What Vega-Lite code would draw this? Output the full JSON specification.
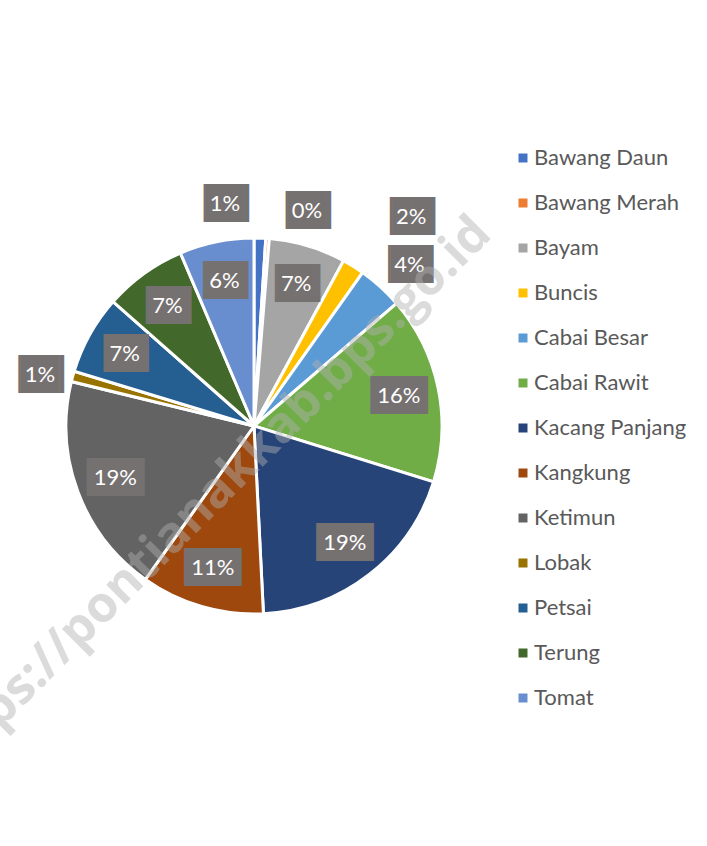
{
  "$schema": "https://vega.github.io/schema/vega-lite/v6.json",
  "width": 500,
  "height": 840,
  "autosize": {"type": "none"},
  "padding": {"left": 4, "top": 6, "right": 203, "bottom": 0},
  "background": "white",
  "config": {"view": {"stroke": null}},
  "data": {
    "values": [
      {"category": "Bawang Daun", "value": 1.0},
      {"category": "Bawang Merah", "value": 0.3},
      {"category": "Bayam", "value": 6.6},
      {"category": "Buncis", "value": 1.9},
      {"category": "Cabai Besar", "value": 3.9},
      {"category": "Cabai Rawit", "value": 16.1},
      {"category": "Kacang Panjang", "value": 19.4},
      {"category": "Kangkung", "value": 10.6},
      {"category": "Ketimun", "value": 19.0},
      {"category": "Lobak", "value": 0.9},
      {"category": "Petsai", "value": 6.8},
      {"category": "Terung", "value": 7.1},
      {"category": "Tomat", "value": 6.4}
    ]
  },
  "layer": [
    {
      "mark": {"type": "arc", "outerRadius": 188, "stroke": "white", "strokeWidth": 3},
      "encoding": {
        "theta": {"field": "value", "type": "quantitative", "stack": true},
        "order": {"field": "category", "type": "nominal"},
        "color": {
          "field": "category",
          "type": "nominal",
          "scale": {
            "domain": ["Bawang Daun", "Bawang Merah", "Bayam", "Buncis", "Cabai Besar", "Cabai Rawit", "Kacang Panjang", "Kangkung", "Ketimun", "Lobak", "Petsai", "Terung", "Tomat"],
            "range": ["#4472C4", "#ED7D31", "#A5A5A5", "#FFC000", "#5B9BD5", "#70AD47", "#264478", "#9E480E", "#636363", "#997300", "#255E91", "#43682B", "#698ED0"]
          },
          "legend": {
            "title": null,
            "orient": "none",
            "legendX": 508,
            "legendY": 141,
            "padding": 0,
            "symbolType": "square",
            "symbolSize": 81,
            "symbolStrokeWidth": 0,
            "labelFont": "Lato",
            "labelFontSize": 22,
            "labelColor": "#595959",
            "labelOffset": 0,
            "labelLimit": 300,
            "rowPadding": 23
          }
        }
      }
    },
    {
      "transform": [
        {"calculate": "format(datum.value, '.0f') + '%'", "as": "label"},
        {"calculate": "length(datum.label) > 2 ? '▐██▌' : '▕██▎'", "as": "box"}
      ],
      "mark": {
        "type": "text",
        "font": "DejaVu Sans Mono",
        "fontSize": 32,
        "color": "#767171",
        "radius": {"expr": "datum.value < 5 ? 222 : 148"},
        "dx": {"expr": "datum.category === 'Bawang Daun' ? -36 : datum.category === 'Bawang Merah' ? 37 : datum.category === 'Buncis' ? 40 : datum.category === 'Cabai Besar' ? 6 : 0"},
        "dy": {"expr": "datum.category === 'Bawang Merah' ? 6 : datum.category === 'Buncis' ? -20 : datum.category === 'Lobak' ? 8 : datum.category === 'Cabai Besar' ? 3 : 0"}
      },
      "encoding": {
        "theta": {"field": "value", "type": "quantitative", "stack": true},
        "order": {"field": "category", "type": "nominal"},
        "detail": {"field": "category", "type": "nominal"},
        "text": {"field": "box", "type": "nominal"}
      }
    },
    {
      "transform": [
        {"calculate": "format(datum.value, '.0f') + '%'", "as": "label"}
      ],
      "mark": {
        "type": "text",
        "font": "Lato",
        "fontSize": 22,
        "color": "white",
        "radius": {"expr": "datum.value < 5 ? 222 : 148"},
        "dx": {"expr": "datum.category === 'Bawang Daun' ? -36 : datum.category === 'Bawang Merah' ? 37 : datum.category === 'Buncis' ? 40 : datum.category === 'Cabai Besar' ? 6 : 0"},
        "dy": {"expr": "datum.category === 'Bawang Merah' ? 6 : datum.category === 'Buncis' ? -20 : datum.category === 'Lobak' ? 8 : datum.category === 'Cabai Besar' ? 3 : 0"}
      },
      "encoding": {
        "theta": {"field": "value", "type": "quantitative", "stack": true},
        "order": {"field": "category", "type": "nominal"},
        "detail": {"field": "category", "type": "nominal"},
        "text": {"field": "label", "type": "nominal"}
      }
    },
    {
      "data": {"values": [{"t": "https://pontianakkab.bps.go.id"}]},
      "mark": {
        "type": "text",
        "font": "Open Sans",
        "fontWeight": "bold",
        "fontSize": 50,
        "angle": 315,
        "color": "#b0b0b0",
        "opacity": 0.45,
        "dx": -84,
        "dy": 20
      },
      "encoding": {"text": {"field": "t", "type": "nominal"}}
    }
  ]
}
